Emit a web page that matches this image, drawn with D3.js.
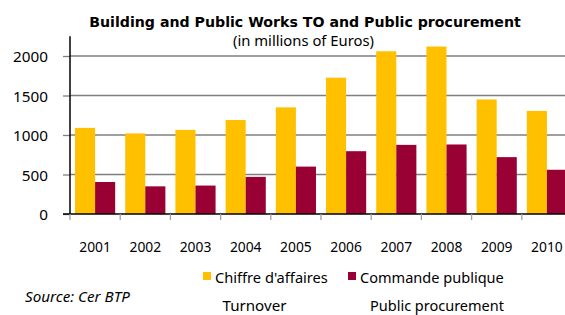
<!DOCTYPE html>
<html><head><meta charset="utf-8">
<script src="https://cdn.jsdelivr.net/npm/d3@7"></script>
<style>body{margin:0;background:#fff}svg{display:block}text{font-family:"Noto Sans","Open Sans",sans-serif;fill:#000}</style>
</head><body>
<svg id="c" width="565" height="315"></svg>
<script>
const years = ["2001","2002","2003","2004","2005","2006","2007","2008","2009","2010"];
const turnover = [1090,1020,1065,1190,1350,1725,2060,2120,1450,1305];
const procurement = [405,350,360,470,600,795,875,880,720,560];
const yTicks = [0,500,1000,1500,2000];
const seriesNames = ["Chiffre d'affaires","Commande publique"];
const seriesLabelsEn = ["Turnover","Public procurement"];
const colors = ["#FFC000","#990033"];

const svg = d3.select("#c");
function fit(sel, w){
  const n = sel.node(); const cur = parseFloat(sel.style("font-size"));
  const L = n.getComputedTextLength();
  const s = cur*w/L; sel.style("font-size", s+"px"); return s;
}
const x0 = 70, x1 = 572, y0 = 214;
const y = d3.scaleLinear().domain([0,2250]).range([y0, y0 - 2250*158/2000]);
const x = d3.scaleBand().domain(years).range([x0,x1]).paddingInner(0.2).paddingOuter(0.1);
const xs = d3.scaleBand().domain([0,1]).range([0, x.bandwidth()]);

// gridlines
svg.append("g").selectAll("line").data(yTicks.filter(d=>d>0)).join("line")
  .attr("x1",x0).attr("x2",565).attr("y1",d=>y(d)).attr("y2",d=>y(d))
  .attr("stroke","#7f7f7f").attr("stroke-width",1.3);

// bars
const data = years.map((yr,i)=>({yr, vals:[turnover[i],procurement[i]]}));
const g = svg.append("g").selectAll("g").data(data).join("g")
  .attr("transform",d=>`translate(${x(d.yr)},0)`);
g.selectAll("rect").data(d=>d.vals).join("rect")
  .attr("x",(d,i)=>xs(i)).attr("width",xs.bandwidth())
  .attr("y",d=>y(d)).attr("height",d=>y0-y(d))
  .attr("fill",(d,i)=>colors[i]);

// y axis
const ya = svg.append("g").attr("transform",`translate(${x0},0)`)
  .call(d3.axisLeft(y).tickValues(yTicks).tickSize(7).tickPadding(15).tickFormat(d3.format("d")));
ya.select(".domain").remove();
ya.selectAll(".tick line").attr("stroke","#7f7f7f").attr("stroke-width",1.3);
ya.selectAll(".tick text").attr("fill","#000").attr("dy","0.36em").style("font-size","14px").style("font-family",null);
const ys = fit(ya.selectAll(".tick text").filter(d=>d===2000), 35);
ya.selectAll(".tick text").style("font-size", ys+"px");
svg.append("line").attr("x1",x0).attr("x2",x0).attr("y1",y(2250)).attr("y2",y0).attr("stroke","#000").attr("stroke-width",1.5);

// x axis baseline and ticks
svg.append("line").attr("x1",x0-7).attr("x2",565).attr("y1",y0).attr("y2",y0).attr("stroke","#000").attr("stroke-width",1.5);
svg.append("g").selectAll("line").data(years).join("line")
  .attr("x1",d=>x(d)-x.step()*x.paddingInner()/2).attr("x2",d=>x(d)-x.step()*x.paddingInner()/2)
  .attr("y1",y0).attr("y2",y0+6).attr("stroke","#a0a0a0").attr("stroke-width",1.3);

// x labels
const xl = svg.append("g").selectAll("text").data(years).join("text")
  .attr("x",d=>x(d)+x.bandwidth()/2).attr("y",252).attr("text-anchor","middle").style("font-size","14px").text(d=>d);
const xsz = fit(xl.filter((d,i)=>i===0), 31.7);
xl.style("font-size", xsz+"px");

// title
fit(svg.append("text").attr("x",305).attr("y",27).attr("text-anchor","middle")
  .style("font-family","'DejaVu Sans',sans-serif")
  .style("font-size","14px").style("font-weight","bold").text("Building and Public Works TO and Public procurement"), 432);
fit(svg.append("text").attr("x",303.5).attr("y",46).attr("text-anchor","middle")
  .style("font-size","14px").text("(in millions of Euros)"), 141);

// legend
const legX = [203,348];
const legW = [113,144];
seriesNames.forEach((n,i)=>{
  svg.append("rect").attr("x",legX[i]).attr("y",272).attr("width",8).attr("height",8).attr("fill",colors[i]);
  fit(svg.append("text").attr("x",legX[i]+12).attr("y",283).style("font-size","14px").text(n), legW[i]);
});
const enX = [222.5,370];
const enW = [64,134];
seriesLabelsEn.forEach((n,i)=>{
  fit(svg.append("text").attr("x",enX[i]).attr("y",310.5).style("font-size","14px").text(n), enW[i]);
});
fit(svg.append("text").attr("x",25).attr("y",302).style("font-size","14px").style("font-style","italic").text("Source: Cer BTP"), 105);
</script>
</body></html>
